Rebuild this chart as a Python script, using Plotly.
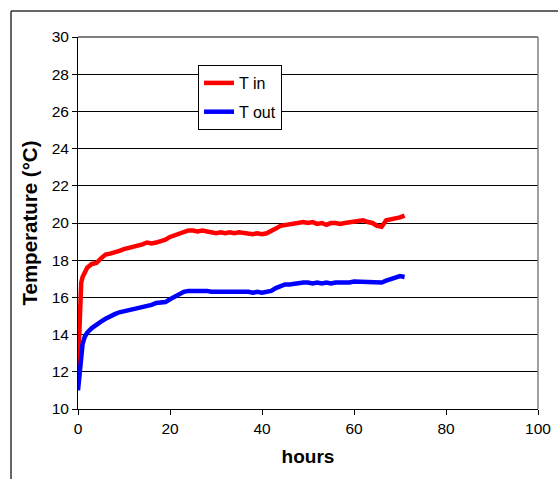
import plotly.graph_objects as go

hours = [0, 0.2, 0.4, 0.7, 1, 1.5, 2] + list(range(3, 72))

t_in = [12.2, 14.2, 15.9, 16.8, 17.1, 17.4, 17.6,
        17.8, 17.85, 18.1, 18.3, 18.35, 18.4, 18.5, 18.6, 18.65, 18.7,
        18.75, 18.85, 18.95, 18.9, 18.95, 19.0, 19.1, 19.25, 19.35, 19.45,
        19.55, 19.6, 19.6, 19.55, 19.6, 19.55, 19.45, 19.45, 19.5, 19.45,
        19.5, 19.45, 19.5, 19.45, 19.45, 19.4, 19.45, 19.4, 19.45, 19.55,
        19.7, 19.85, 19.9, 19.9, 19.95, 20.0, 20.05, 20.0, 20.05, 19.95,
        20.0, 19.9, 20.0, 20.0, 19.95, 20.0, 20.05, 20.05, 20.1, 20.15,
        20.05, 20.0, 19.85, 19.8, 20.15, 20.2, 20.2, 20.3, 20.4]

t_out = [11.0, 11.6, 12.4, 13.1, 13.5, 13.9, 14.1,
         14.35, 14.55, 14.7, 14.85, 15.0, 15.1, 15.2, 15.25, 15.3, 15.35,
         15.4, 15.5, 15.55, 15.6, 15.7, 15.7, 15.75, 15.9, 16.05, 16.15,
         16.3, 16.35, 16.35, 16.35, 16.4, 16.35, 16.3, 16.3, 16.35, 16.3,
         16.35, 16.3, 16.35, 16.3, 16.3, 16.25, 16.3, 16.25, 16.3, 16.35,
         16.5, 16.6, 16.7, 16.7, 16.75, 16.75, 16.8, 16.8, 16.75, 16.8,
         16.75, 16.8, 16.75, 16.8, 16.8, 16.75, 16.8, 16.85, 16.85, 16.85,
         16.85, 16.8, 16.85, 16.8, 16.9, 17.0, 17.05, 17.15, 17.1]

series_names = ["T in", "T out"]
series_colors = ["#FF0000", "#0000FF"]

x_ticks = [0, 20, 40, 60, 80, 100]
y_ticks = [10, 12, 14, 16, 18, 20, 22, 24, 26, 28, 30]

fig = go.Figure()
for name, vals, col in zip(series_names, [t_in, t_out], series_colors):
    fig.add_trace(go.Scatter(x=hours, y=vals, mode="lines", name=name,
                             legendgroup=name,
                             line=dict(color=col, width=4.5)))

W, H = 558, 479
L, R, T, B = 78, 20, 37, 70
pw, ph = W - L - R, H - T - B

def px_x(p):
    return (p - L) / pw

def px_y(p):
    return 1 - (p - T) / ph

fig.update_layout(
    width=W, height=H,
    margin=dict(l=L, r=R, t=T, b=B, pad=0, autoexpand=False),
    paper_bgcolor="white", plot_bgcolor="white",
    font=dict(family="Arial, Liberation Sans, sans-serif", size=15.5, color="black"),
    showlegend=True,
    legend=dict(x=px_x(198), y=px_y(65), xanchor="left", yanchor="top",
                bgcolor="white", bordercolor="black", borderwidth=1,
                font=dict(size=16), tracegroupgap=5, itemwidth=30),
    xaxis=dict(range=[0, 100], tickvals=x_ticks, showgrid=False,
               showline=True, linecolor="black", linewidth=1,
               ticks="outside", ticklen=5, tickcolor="black",
               zeroline=False, automargin=False,
               title=dict(text="<b>hours</b>", font=dict(size=19), standoff=14)),
    yaxis=dict(range=[10, 30], tickvals=y_ticks, showgrid=True,
               gridcolor="#000000", gridwidth=1,
               showline=True, linecolor="black", linewidth=1,
               ticks="outside", ticklen=5, tickcolor="black",
               zeroline=False, automargin=False,
               title=dict(text="<b>Temperature (°C)</b>", font=dict(size=20.5), standoff=8)),
    shapes=[
        dict(type="line", xref="paper", yref="paper", x0=0, x1=1, y0=1, y1=1,
             line=dict(color="#808080", width=2), layer="above"),
        dict(type="line", xref="paper", yref="paper", x0=1, x1=1, y0=0, y1=1,
             line=dict(color="#808080", width=1.5), layer="above"),
        dict(type="line", xref="paper", yref="paper", x0=px_x(11), x1=px_x(560),
             y0=px_y(11), y1=px_y(11), line=dict(color="#333333", width=1.5)),
        dict(type="line", xref="paper", yref="paper", x0=px_x(11), x1=px_x(11),
             y0=px_y(11), y1=px_y(485), line=dict(color="#333333", width=1.5)),
    ],
)

fig.write_html("out.html")
